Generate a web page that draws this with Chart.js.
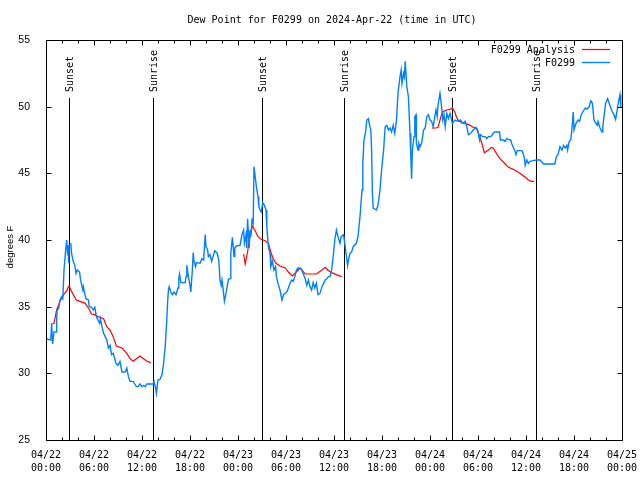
<!DOCTYPE html>
<html>
<head>
<meta charset="utf-8">
<script src="https://cdn.jsdelivr.net/npm/chart.js@4.4.1/dist/chart.umd.min.js"></script>
<style>
html, body { margin: 0; padding: 0; background: #fff; }
</style>
</head>
<body>
<canvas id="chart" width="640" height="480"></canvas>
<script>
// hours since 04/22 00:00 UTC
const obsHours = [
  0.0, 0.6, 0.7, 0.83, 1.0, 1.25, 1.33, 1.4, 1.6, 1.75, 1.96, 2.1, 2.25, 2.46, 2.58, 2.67, 2.75, 2.83, 2.9, 3.1,
  3.2, 3.4, 3.6, 3.75, 3.9, 4.2, 4.3, 4.46, 4.6, 4.67, 4.8, 5.0, 5.3, 5.4, 5.7, 5.9, 6.1, 6.3, 6.5, 6.7,
  6.8, 7.0, 7.2, 7.4, 7.6, 7.8, 8.0, 8.2, 8.4, 8.75, 9.0, 9.25, 9.5, 9.9, 10.1, 10.3, 10.5, 10.9, 11.1, 11.3,
  11.5, 11.75, 12.0, 12.2, 12.4, 12.6, 13.4, 13.5, 13.7, 13.8, 14.0, 14.25, 14.5, 14.7, 14.9, 15.1, 15.2, 15.3, 15.4, 15.6,
  15.8, 16.0, 16.25, 16.5, 16.6, 16.7, 16.85, 17.0, 17.4, 17.5, 17.6, 17.8, 18.0, 18.1, 18.3, 18.4, 18.5, 18.7, 18.8, 19.25,
  19.5, 19.7, 19.8, 19.9, 20.0, 20.2, 20.3, 20.5, 20.7, 20.9, 21.1, 21.4, 21.6, 21.75, 21.9, 22.0, 22.2, 22.3, 22.5, 22.8,
  23.0, 23.1, 23.3, 23.4, 23.5, 23.6, 23.8, 24.25, 24.5, 24.7, 24.8, 25.0, 25.1, 25.2, 25.4, 25.5, 25.6, 25.75, 25.9, 26.0,
  26.2, 26.3, 26.5, 26.6, 26.75, 26.9, 27.1, 27.3, 27.5, 27.6, 27.8, 28.0, 28.1, 28.3, 28.5, 28.7, 28.8, 29.0, 29.25, 29.5,
  29.7, 29.9, 30.1, 30.3, 30.5, 30.7, 30.9, 31.1, 31.3, 31.5, 31.75, 31.95, 32.2, 32.4, 32.6, 32.8, 33.0, 33.2, 33.4, 33.6,
  33.8, 34.0, 34.25, 34.5, 34.7, 34.9, 35.1, 35.3, 35.5, 35.7, 35.9, 36.1, 36.3, 36.5, 36.75, 36.9, 37.2, 37.4, 37.7, 37.8,
  38.0, 38.2, 38.4, 38.8, 39.0, 39.25, 39.5, 39.6, 39.75, 39.95, 40.1, 40.3, 40.4, 40.6, 40.7, 40.8, 40.9, 41.3, 41.5, 41.75,
  41.95, 42.2, 42.4, 42.6, 42.8, 43.0, 43.2, 43.4, 43.6, 43.8, 44.0, 44.25, 44.4, 44.5, 44.7, 44.8, 44.9, 45.1, 45.3, 45.5,
  45.6, 45.7, 45.8, 46.0, 46.1, 46.25, 46.3, 46.5, 46.6, 46.75, 46.95, 47.2, 47.4, 47.6, 47.8, 48.0, 48.2, 48.4, 48.6, 48.75,
  48.9, 49.0, 49.25, 49.45, 49.6, 49.75, 49.9, 50.1, 50.3, 50.5, 50.8, 51.1, 51.5, 51.8, 52.1, 52.4, 52.6, 52.8, 53.1, 53.4,
  53.75, 53.95, 54.2, 54.3, 54.6, 54.9, 55.1, 55.3, 55.5, 55.7, 55.9, 56.1, 56.7, 56.8, 57.2, 57.4, 57.6, 57.8, 58.1, 58.2,
  58.4, 58.6, 58.75, 58.9, 59.5, 59.7, 59.8, 59.9, 60.1, 60.3, 60.5, 60.9, 61.3, 61.75, 62.2, 63.6, 63.8, 64.0, 64.25, 64.5,
  64.7, 64.9, 65.1, 65.2, 65.4, 65.6, 65.8, 65.9, 66.0, 66.25, 66.5, 66.7, 66.9, 67.1, 67.4, 67.6, 67.9, 68.1, 68.3, 68.5,
  68.75, 68.9, 69.0, 69.25, 69.5, 69.6, 69.75, 69.95, 70.2, 70.4, 70.6, 70.8, 71.0, 71.2, 71.4, 71.6, 71.75, 71.85
];
const obsValues = [
  32.6, 32.5, 33.75, 32.2, 33.1, 33.1, 34.0, 34.75, 34.9, 35.5, 35.75, 35.6, 37.75, 39.25, 40.0, 39.25, 39.6, 38.25, 39.6, 39.7,
  39.0, 38.4, 38.1, 37.5, 37.75, 37.6, 37.1, 36.6, 36.25, 36.5, 36.1, 35.6, 35.5, 35.0, 34.95, 34.75, 34.95, 34.25, 34.0, 33.75,
  34.1, 33.5, 33.0, 32.75, 32.5, 31.9, 32.1, 31.4, 31.5, 30.75, 30.6, 30.9, 30.1, 30.1, 30.4, 29.75, 29.4, 29.4, 29.2, 29.0,
  29.0, 29.2, 29.0, 29.1, 29.0, 29.2, 29.2, 29.4, 28.9, 28.5, 29.5, 29.55, 29.9, 30.75, 32.0, 34.0, 35.3, 36.25, 36.5, 36.1,
  35.9, 36.1, 35.9, 36.4, 37.1, 37.45, 36.8, 36.8, 36.8, 37.25, 38.1, 37.25, 36.6, 36.1, 37.8, 39.05, 38.4, 38.0, 38.3, 38.25,
  38.6, 38.5, 39.4, 40.4, 39.5, 39.25, 38.75, 38.9, 38.4, 38.8, 39.2, 39.0, 38.5, 37.0, 36.6, 37.0, 36.0, 35.4, 36.0, 37.05,
  37.1, 39.0, 40.2, 39.5, 38.75, 39.4, 39.55, 39.6, 40.4, 40.75, 39.75, 40.4, 39.4, 41.6, 39.4, 40.75, 40.25, 41.5, 41.25, 45.5,
  44.5, 44.0, 43.25, 42.5, 42.25, 42.1, 42.8, 42.6, 42.25, 41.0, 39.5, 39.0, 38.0, 38.4, 37.75, 38.0, 37.25, 36.75, 36.25, 35.5,
  35.9, 36.0, 36.1, 36.4, 36.75, 37.0, 36.9, 37.25, 37.75, 37.9, 37.9, 37.75, 37.4, 37.1, 36.6, 37.0, 36.5, 36.25, 36.8, 36.4,
  36.75, 35.9, 36.0, 36.5, 36.75, 37.0, 37.1, 37.25, 37.25, 37.75, 38.75, 40.0, 40.75, 40.25, 39.75, 40.25, 40.4, 39.5, 38.1, 38.5,
  39.0, 39.1, 39.5, 39.75, 40.25, 41.75, 43.75, 45.75, 47.5, 48.1, 49.0, 49.1, 48.75, 48.25, 46.75, 43.5, 42.4, 42.25, 42.6, 43.75,
  45.25, 46.75, 48.5, 48.6, 48.25, 48.4, 48.1, 48.6, 48.0, 48.9, 51.0, 52.25, 52.75, 51.75, 52.5, 52.25, 53.4, 51.5, 50.75, 48.0,
  46.25, 44.6, 46.75, 47.75, 49.25, 49.4, 47.25, 46.75, 47.25, 47.0, 47.25, 48.25, 48.4, 49.25, 49.4, 49.0, 48.9, 48.5, 49.25, 49.75,
  49.25, 50.1, 51.0, 50.0, 49.0, 49.4, 48.5, 49.5, 49.1, 49.5, 48.75, 49.0, 48.9, 49.0, 48.75, 48.9, 48.5, 47.9, 48.0, 48.25,
  48.45, 48.25, 47.5, 47.9, 47.75, 47.75, 47.6, 47.75, 47.75, 47.8, 48.0, 48.1, 48.1, 47.5, 47.5, 47.4, 47.6, 47.55, 47.5, 47.25,
  46.95, 46.7, 46.4, 46.7, 46.7, 46.4, 46.1, 45.6, 46.0, 45.75, 45.9, 45.95, 46.0, 46.0, 45.7, 45.7, 46.25, 46.4, 47.0, 46.75,
  47.1, 46.9, 47.1, 46.75, 47.4, 47.5, 48.75, 49.6, 48.25, 48.75, 49.0, 48.9, 49.4, 49.6, 49.9, 49.8, 50.0, 50.45, 50.25, 49.0,
  48.75, 48.6, 48.9, 48.4, 48.1, 48.5, 49.25, 50.25, 50.6, 50.25, 49.9, 49.6, 49.4, 49.05, 49.75, 50.5, 50.9, 49.9
];
// analysis series (null = gap)
const anaHours = [
  0.8, 1.0, 1.33, 1.75, 2.2, 2.6, 2.8, 3.0, 3.4, 3.8, 4.25, 4.9, 5.3, 5.7, 6.1, 6.5, 7.2, 7.6, 8.0, 8.4,
  8.8, 9.5, 10.1, 10.5, 10.9, 11.3, 11.75, 12.2, 12.6, 13.1,
  18,
  24.7, 24.9, 25.0, 25.2, 25.4, 25.6, 25.8, 26.1, 26.5, 26.9, 27.4, 27.8, 28.1, 28.4, 28.75, 29.25, 29.9, 30.3, 30.8, 31.3,
  31.75, 31.95, 32.4, 32.8, 33.4, 33.8, 34.5, 34.9, 35.2, 35.7, 36.3, 36.96,
  42,
  48.25, 48.75, 49.0, 49.25, 49.5, 49.7, 50.1, 50.5, 50.8, 51.1, 51.3, 51.5, 51.95, 52.4, 53.0, 53.4, 53.8, 54.0, 54.25, 54.5,
  54.8, 55.3, 55.7, 55.9, 56.3, 56.75, 57.4, 57.8, 58.4, 59.0, 59.5, 59.9, 60.3, 60.7, 61.0
];
const anaValues = [
  33.7, 33.75, 34.75, 35.4, 35.9, 36.2, 36.5, 36.4, 35.9, 35.5, 35.4, 35.25, 34.9, 34.45, 34.4, 34.25, 34.1, 33.5, 33.25, 32.75,
  32.05, 31.9, 31.5, 31.1, 30.9, 31.1, 31.3, 31.1, 30.9, 30.8,
  null,
  38.95, 38.2, 38.5, 39.1, 40.0, 40.5, 41.05, 40.75, 40.25, 40.05, 39.95, 39.75, 39.1, 38.6, 38.25, 38.05, 37.9, 37.6, 37.3, 37.6,
  37.9, 37.8, 37.45, 37.45, 37.45, 37.45, 37.75, 37.95, 37.75, 37.55, 37.4, 37.25,
  null,
  48.4, 48.4, 48.45, 49.0, 49.5, 49.65, 49.75, 49.8, 49.9, 49.6, 49.25, 49.0, 48.8, 48.75, 48.6, 48.45, 48.35, 48.1, 47.7, 47.2,
  46.55, 46.75, 46.95, 46.9, 46.5, 46.1, 45.7, 45.45, 45.3, 45.1, 44.9, 44.7, 44.5, 44.4, 44.4
];
const sunHours = [2.9, 13.4, 26.95, 37.3, 50.8, 61.3];
const sunLabels = ['Sunset', 'Sunrise', 'Sunset', 'Sunrise', 'Sunset', 'Sunrise'];
const dayLabels = ['04/22', '04/22', '04/22', '04/22', '04/23', '04/23', '04/23', '04/23', '04/24', '04/24', '04/24', '04/24', '04/25'];
const timeLabels = ['00:00', '06:00', '12:00', '18:00', '00:00', '06:00', '12:00', '18:00', '00:00', '06:00', '12:00', '18:00', '00:00'];
const yTicks = [25, 30, 35, 40, 45, 50, 55];

const MONO = "'DejaVu Sans Mono', monospace";
const SANS = "'Liberation Sans', Arial, sans-serif";

function toPoints(xs, ys) {
    return xs.map((x, i) => ({ x: x, y: ys[i] }));
}

// gnuplot-like frame, ticks, title, legend and sun markers
const gnuplotLook = {
    id: 'gnuplotLook',
    beforeDatasetsDraw(chart) {
        const ctx = chart.ctx;
        const area = chart.chartArea;
        const xs = chart.scales.x;
        ctx.save();
        ctx.strokeStyle = '#000';
        ctx.lineWidth = 1;
        ctx.fillStyle = '#000';
        ctx.font = '10px ' + MONO;
        sunHours.forEach((h, i) => {
            const px = Math.round(xs.getPixelForValue(h)) + 0.5;
            ctx.beginPath();
            ctx.moveTo(px, 98);
            ctx.lineTo(px, area.bottom);
            ctx.stroke();
            ctx.save();
            ctx.translate(px + 0.5, 92);
            ctx.rotate(-Math.PI / 2);
            ctx.textAlign = 'left';
            ctx.textBaseline = 'middle';
            ctx.fillText(sunLabels[i], 0, 0);
            ctx.restore();
        });
        ctx.restore();
    },
    afterDraw(chart) {
        const ctx = chart.ctx;
        const area = chart.chartArea;
        const xs = chart.scales.x;
        const ys = chart.scales.y;
        ctx.save();
        ctx.strokeStyle = '#000';
        ctx.lineWidth = 1;
        const l = Math.round(area.left) + 0.5, r = Math.round(area.right) + 0.5;
        const t = Math.round(area.top) + 0.5, b = Math.round(area.bottom) + 0.5;
        ctx.strokeRect(l, t, r - l, b - t);

        ctx.beginPath();
        for (let h = 0; h <= 72; h += 2) {
            const px = Math.round(xs.getPixelForValue(h)) + 0.5;
            const len = h % 6 === 0 ? 5 : 3;
            ctx.moveTo(px, b); ctx.lineTo(px, b - len);
            ctx.moveTo(px, t); ctx.lineTo(px, t + len);
        }
        yTicks.forEach(v => {
            const py = Math.round(ys.getPixelForValue(v)) + 0.5;
            ctx.moveTo(l, py); ctx.lineTo(l + 5, py);
            ctx.moveTo(r, py); ctx.lineTo(r - 5, py);
        });
        ctx.stroke();

        // title
        ctx.fillStyle = '#000';
        ctx.font = '10px ' + MONO;
        ctx.textAlign = 'center';
        ctx.textBaseline = 'middle';
        ctx.fillText('Dew Point for F0299 on 2024-Apr-22 (time in UTC)', 332, 20);

        // legend
        ctx.textAlign = 'right';
        ctx.fillText('F0299 Analysis', 575, 50);
        ctx.fillText('F0299', 575, 63);
        ctx.strokeStyle = '#ff0000';
        ctx.lineWidth = 1.2;
        ctx.beginPath(); ctx.moveTo(582, 49.5); ctx.lineTo(610, 49.5); ctx.stroke();
        ctx.strokeStyle = '#0080ff';
        ctx.lineWidth = 1.4;
        ctx.beginPath(); ctx.moveTo(582, 62.5); ctx.lineTo(610, 62.5); ctx.stroke();

        // y axis label
        ctx.font = '9.5px ' + SANS;
        ctx.translate(10, 247);
        ctx.rotate(-Math.PI / 2);
        ctx.textAlign = 'center';
        ctx.fillText('degrees F', 0, 0);
        ctx.restore();
    }
};

const ctx = document.getElementById('chart').getContext('2d');
new Chart(ctx, {
    type: 'line',
    data: {
        datasets: [
            {
                label: 'F0299',
                data: toPoints(obsHours, obsValues),
                borderColor: '#0080ff',
                borderWidth: 1.4,
                pointRadius: 0,
                tension: 0,
                fill: false
            },
            {
                label: 'F0299 Analysis',
                data: toPoints(anaHours, anaValues),
                borderColor: '#ff0000',
                borderWidth: 1.2,
                pointRadius: 0,
                tension: 0,
                spanGaps: false,
                fill: false
            }
        ]
    },
    options: {
        responsive: false,
        animation: false,
        devicePixelRatio: 1,
        layout: { padding: { left: 0, right: 18, top: 40, bottom: 0 } },
        plugins: {
            legend: { display: false },
            title: { display: false },
            tooltip: { enabled: false }
        },
        scales: {
            x: {
                type: 'linear',
                min: 0,
                max: 72,
                grid: { display: false },
                border: { display: false },
                ticks: {
                    stepSize: 6,
                    autoSkip: false,
                    maxRotation: 0,
                    padding: 1,
                    color: '#000',
                    font: { family: MONO, size: 10, lineHeight: 1.3 },
                    callback: (value) => {
                        const i = Math.round(value / 6);
                        return [dayLabels[i], timeLabels[i]];
                    }
                },
                afterFit: (scale) => { scale.height = 40; }
            },
            y: {
                min: 25,
                max: 55,
                grid: { display: false },
                border: { display: false },
                ticks: {
                    stepSize: 5,
                    padding: 8,
                    color: '#000',
                    font: { family: SANS, size: 10.5 }
                },
                afterFit: (scale) => { scale.width = 46; }
            }
        }
    },
    plugins: [gnuplotLook]
});
</script>
</body>
</html>
